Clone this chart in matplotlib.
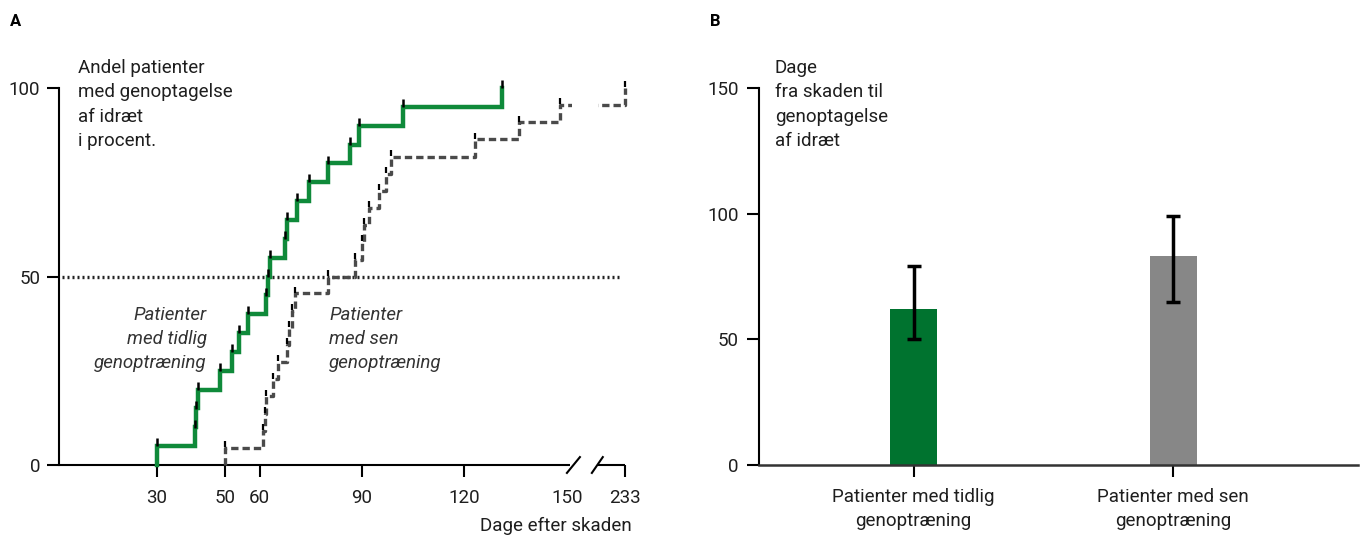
import numpy as np
import matplotlib
matplotlib.use("Agg")
from matplotlib import pyplot as plt
from matplotlib.patches import Rectangle

plt.rcParams['font.family'] = ['Roboto', 'DejaVu Sans']
plt.rcParams['font.size'] = 13.5

# Panel A: Kaplan-Meier-like curves (days after injury, percent returned to sport)
early_days = [30, 41, 41.5, 42, 48.5, 52, 54, 56.5, 62, 62.5, 63, 67.5, 68, 71, 74.5, 80, 86.5, 89, 102, 131]
early_pct = [5, 10, 15, 20, 25, 30, 35, 40, 45, 50, 55, 60, 65, 70, 75, 80, 85, 90, 95, 100]

late_days = [50, 61, 61.5, 62, 64, 65.5, 68, 68.5, 69.5, 70.5, 80, 88, 90, 90.5, 92, 95, 97, 98.5, 123, 136, 148, 233]
late_pct = [4.5, 9.1, 13.6, 18.2, 22.7, 27.3, 31.8, 36.4, 40.9, 45.5, 50, 54.5, 59.1, 63.6, 68.2, 72.7, 77.3, 81.8, 86.4, 90.9, 95.5, 100]

x_ticks_a = [30, 50, 60, 90, 120, 150, 233]
y_ticks_a = [0, 50, 100]

# Panel B: days from injury to return (median with spread)
groups = ["Patienter med tidlig\ngenoptræning", "Patienter med sen\ngenoptræning"]
days_med = [62, 83]
days_low = [50, 65]
days_high = [79, 99]
y_ticks_b = [0, 50, 100, 150]

GREEN = '#0f8a3a'
BAR_GREEN = '#00732f'
BAR_GRAY = '#878787'
TXT = '#1e1e1e'


# axis is broken after 150, 233 sits just past it
def xpos(d):
    d = np.asarray(d, dtype=float)
    return np.where(d <= 150, d, 150 + (d - 150) * 17 / 83)


def step_xy(days, pct):
    x = [days[0]]
    y = [0]
    for d, p in zip(days, pct):
        x += [d, d]
        y += [y[-1], p]
    return xpos(x), np.array(y)


fig = plt.figure(figsize=(13.6, 5.35), dpi=100)
W, H = 1360, 535

# ---------- panel A ----------
ax1 = fig.add_axes([59 / W, 1 - 465 / H, (625 - 59) / W, (465 - 88) / H])
ax1.set_xlim(1.3, 167)
ax1.set_ylim(0, 100)

ax1.plot([2.2, 166.1], [50, 50], color='#222222', lw=2.4, linestyle=(0, (0.6, 0.9)), zorder=2)

ex, ey = step_xy(early_days, early_pct)
ax1.plot(ex, ey, color=GREEN, lw=3.2, solid_joinstyle='miter', zorder=4, clip_on=False)
ax1.plot(xpos(early_days), np.array(early_pct) + 1, linestyle='none', marker='|', ms=6, mew=1.8,
         color='black', zorder=5, clip_on=False)

lx, ly = step_xy(late_days, late_pct)
ax1.plot(lx, ly, color='#4a4a4a', lw=2.4, linestyle=(0, (2.2, 1.2)), zorder=4, clip_on=False)
ax1.plot(xpos(late_days), np.array(late_pct) + 1, linestyle='none', marker='|', ms=5, mew=1.6,
         color='black', zorder=5, clip_on=False)
# gap in the dashed line at the axis break
ax1.add_patch(Rectangle((151.5, 92), 7.5, 6, facecolor='white', edgecolor='none', zorder=6))

for s in ['top', 'right', 'bottom']:
    ax1.spines[s].set_visible(False)
ax1.spines['left'].set_linewidth(1.5)

# broken x-axis drawn by hand
ax1.plot([1.3, 150.9], [0, 0], color='black', lw=1.5, clip_on=False, solid_capstyle='butt')
ax1.plot([159.1, 167], [0, 0], color='black', lw=1.5, clip_on=False, solid_capstyle='butt')
ax1.plot([150.0, 153.8], [-2.1, 2.1], color='black', lw=1.5, clip_on=False)
ax1.plot([157.3, 160.5], [-2.1, 2.1], color='black', lw=1.5, clip_on=False)

ax1.set_xticks(xpos(x_ticks_a))
ax1.set_xticklabels([str(t) for t in x_ticks_a])
ax1.set_yticks(y_ticks_a)
ax1.tick_params(axis='x', length=8.6, width=1.5, pad=9, labelcolor=TXT)
ax1.tick_params(axis='y', length=8.6, width=1.5, pad=5, labelcolor=TXT)
ax1.xaxis.get_major_ticks()[5].tick1line.set_visible(False)

ax1.text(44.6, 33.4, "Patienter\nmed tidlig\ngenoptræning", style='italic', ha='right',
         va='center', multialignment='right', linespacing=1.45, color='#333333')
ax1.text(80.4, 33.4, "Patienter\nmed sen\ngenoptræning", style='italic', ha='left',
         va='center', linespacing=1.45, color='#333333')

fig.text(78 / W, 1 - 59 / H, "Andel patienter\nmed genoptagelse\naf idræt\ni procent.",
         ha='left', va='top', linespacing=1.45, color=TXT)
fig.text(632 / W, 1 - 526 / H, "Dage efter skaden", ha='right', va='center', color=TXT)
fig.text(10 / W, 1 - 22 / H, "A", fontweight='bold', fontsize=12, va='center')

# ---------- panel B ----------
ax2 = fig.add_axes([759 / W, 1 - 465 / H, (1358 - 759) / W, (465 - 88) / H])
pos = np.arange(len(groups))
yerr = [np.array(days_med) - np.array(days_low), np.array(days_high) - np.array(days_med)]
ax2.bar(pos, days_med, width=0.18, color=[BAR_GREEN, BAR_GRAY], zorder=2)
ax2.errorbar(pos, days_med, yerr=yerr, fmt='none', ecolor='black', elinewidth=2.5,
             capsize=5, capthick=2.5, zorder=3)
ax2.set_xlim(-0.596, 1.712)
ax2.set_ylim(0, 150)
ax2.set_xticks(pos)
ax2.set_xticklabels(groups, linespacing=1.45)
ax2.set_yticks(y_ticks_b)
for s in ['top', 'right']:
    ax2.spines[s].set_visible(False)
ax2.spines['left'].set_linewidth(1.5)
ax2.spines['bottom'].set_linewidth(1.8)
ax2.spines['bottom'].set_color('#333333')
ax2.tick_params(axis='x', length=8.6, width=1.5, pad=8, labelcolor=TXT)
ax2.tick_params(axis='y', length=8.6, width=1.5, pad=6, labelcolor=TXT)

fig.text(775 / W, 1 - 59 / H, "Dage\nfra skaden til\ngenoptagelse\naf idræt",
         ha='left', va='top', linespacing=1.45, color=TXT)
fig.text(710 / W, 1 - 22 / H, "B", fontweight='bold', fontsize=12, va='center')

fig.savefig("out.png", dpi=100)
